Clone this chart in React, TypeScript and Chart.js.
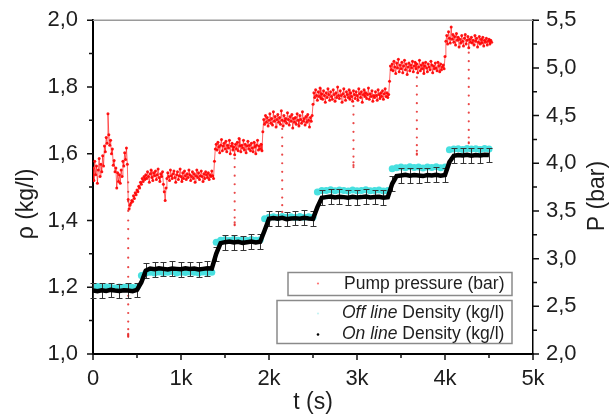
import React, { useEffect, useRef } from "react";
import { Chart, registerables } from "chart.js";

Chart.register(...registerables);

const FONT = "'Liberation Sans', Arial, Helvetica, sans-serif";

// ---------- tick labels ----------
const xTickLabels = ["0", "1k", "2k", "3k", "4k", "5k"];
const rhoTickLabels = ["1,0", "1,2", "1,4", "1,6", "1,8", "2,0"];
const pTickLabels = ["2,0", "2,5", "3,0", "3,5", "4,0", "4,5", "5,0", "5,5"];

// ---------- pump pressure (bar), sampled every 10 s from t = 0 ----------
const pressureStart = 0;
const pressureInterval = 10;
const pressureBar = [
  3.95, 3.82, 4.02, 3.88, 3.97, 3.79, 3.93, 4.05, 3.86, 3.99,
  3.91, 4.08, 3.97, 4.18, 4.12, 4.27, 4.21, 4.52, 4.30, 4.19,
  4.24, 4.10, 4.15, 3.98, 4.03, 3.91, 3.95, 3.74, 3.90, 3.81,
  3.88, 3.79, 3.93, 3.86, 4.02, 3.97, 4.11, 4.04, 4.16, 3.99,
  3.62, 3.52, 3.56, 3.58, 3.61, 3.60, 3.66, 3.63, 3.69, 3.67,
  3.72, 3.70, 3.76, 3.74, 3.80, 3.78, 3.84, 3.81, 3.86, 3.83,
  3.88, 3.84, 3.91, 3.86, 3.80, 3.89, 3.93, 3.85, 3.82, 3.90,
  3.87, 3.92, 3.83, 3.88, 3.94, 3.85, 3.81, 3.89, 3.86, 3.91,
  3.78, 3.70, 3.61, 3.74, 3.84, 3.90, 3.86, 3.82, 3.93, 3.87,
  3.84, 3.89, 3.92, 3.85, 3.80, 3.88, 3.91, 3.83, 3.87, 3.94,
  3.86, 3.81, 3.90, 3.84, 3.92, 3.87, 3.83, 3.89, 3.85, 3.93,
  3.88, 3.82, 3.86, 3.91, 3.84, 3.89, 3.80, 3.87, 3.93, 3.85,
  3.90, 3.83, 3.87, 3.92, 3.86, 3.81, 3.89, 3.84, 3.91, 3.88,
  3.85, 3.90, 3.83, 3.88, 3.86, 3.92, 3.87, 3.84, 4.02, 4.15,
  4.20, 4.14, 4.22, 4.17, 4.11, 4.19, 4.25, 4.13, 4.18, 4.21,
  4.15, 4.23, 4.12, 4.19, 4.16, 4.24, 4.10, 4.18, 4.21, 4.14,
  4.17, 4.09, 4.20, 4.15, 4.22, 4.13, 4.26, 4.18, 4.12, 4.19,
  4.16, 4.24, 4.14, 4.20, 4.11, 4.18, 4.23, 4.15, 4.19, 4.13,
  4.21, 4.16, 4.12, 4.22, 4.17, 4.10, 4.19, 4.24, 4.14, 4.18,
  4.15, 4.20, 4.13, 4.33, 4.46, 4.41, 4.50, 4.43, 4.48, 4.39,
  4.45, 4.52, 4.42, 4.47, 4.40, 4.54, 4.44, 4.49, 4.38, 4.46,
  4.51, 4.43, 4.48, 4.41, 4.55, 4.45, 4.39, 4.50, 4.44, 4.47,
  4.42, 4.53, 4.46, 4.40, 4.49, 4.44, 4.51, 4.37, 4.47, 4.43,
  4.48, 4.41, 4.52, 4.45, 4.39, 4.50, 4.46, 4.42, 4.54, 4.44,
  4.47, 4.40, 4.49, 4.43, 4.51, 4.45, 4.38, 4.48, 4.44, 4.50,
  4.62, 4.74, 4.69, 4.77, 4.71, 4.66, 4.75, 4.70, 4.79, 4.68,
  4.73, 4.67, 4.76, 4.71, 4.64, 4.74, 4.69, 4.78, 4.72, 4.66,
  4.75, 4.70, 4.67, 4.77, 4.72, 4.65, 4.74, 4.69, 4.80, 4.71,
  4.68, 4.76, 4.71, 4.64, 4.73, 4.78, 4.70, 4.66, 4.75, 4.72,
  4.69, 4.77, 4.67, 4.74, 4.70, 4.65, 4.76, 4.72, 4.68, 4.75,
  4.71, 4.66, 4.78, 4.73, 4.69, 4.75, 4.64, 4.72, 4.77, 4.70,
  4.74, 4.68, 4.72, 4.79, 4.67, 4.73, 4.70, 4.76, 4.65, 4.71,
  4.69, 4.75, 4.71, 4.66, 4.77, 4.72, 4.68, 4.74, 4.70, 4.76,
  4.67, 4.73, 4.78, 4.70, 4.74, 4.69, 4.72, 4.86, 5.02, 4.98,
  5.04, 4.97, 5.07, 5.01, 4.94, 5.05, 5.00, 5.09, 4.96, 5.03,
  4.99, 5.06, 4.95, 5.02, 5.08, 4.98, 5.04, 4.93, 5.01, 5.05,
  4.97, 5.03, 5.00, 5.07, 4.96, 5.02, 5.06, 4.99, 5.04, 4.95,
  5.01, 5.08, 4.97, 5.03, 4.99, 5.05, 4.94, 5.02, 5.06, 5.00,
  4.96, 5.04, 5.01, 4.98, 5.07, 5.03, 4.95, 5.02, 4.99, 5.05,
  5.00, 4.97, 5.06, 5.02, 4.96, 5.04, 4.98, 5.01, 5.03, 4.99,
  5.12, 5.28, 5.34, 5.25, 5.38, 5.31, 5.26, 5.43, 5.30, 5.35,
  5.27, 5.33, 5.24, 5.36, 5.29, 5.32, 5.22, 5.30, 5.26, 5.34,
  5.28, 5.23, 5.31, 5.35, 5.25, 5.29, 5.33, 5.21, 5.30, 5.27,
  5.32, 5.26, 5.29, 5.24, 5.34, 5.28, 5.31, 5.22, 5.27, 5.33,
  5.25, 5.30, 5.26, 5.32, 5.23, 5.29, 5.27, 5.31, 5.24, 5.28,
  5.30, 5.25, 5.29, 5.27,
];

// pressure drops (dotted vertical trails)
const spikeTimes = [400, 1610, 2150, 2960, 3680, 4270];
const spikeValues = [
  [3.80, 3.70, 3.60, 3.50, 3.40, 3.31, 3.21, 3.11, 3.01, 2.91, 2.81, 2.71, 2.61, 2.52, 2.43, 2.34, 2.26, 2.21, 2.19, 2.18, 2.20],
  [4.05, 3.96, 3.87, 3.78, 3.69, 3.60, 3.51, 3.43, 3.38, 3.36, 3.35],
  [4.36, 4.27, 4.18, 4.09, 4.00, 3.91, 3.82, 3.73, 3.64, 3.56, 3.49, 3.46],
  [4.60, 4.51, 4.42, 4.33, 4.24, 4.15, 4.07, 4.01, 3.98, 3.96],
  [4.90, 4.81, 4.72, 4.63, 4.54, 4.45, 4.36, 4.27, 4.19, 4.13, 4.10, 4.09],
  [5.16, 5.07, 4.98, 4.89, 4.80, 4.71, 4.62, 4.53, 4.44, 4.35, 4.27, 4.22, 4.21],
];

// ---------- densities (kg/l), sampled every 50 s from t = 0 ----------
const densityStart = 0;
const densityInterval = 50;
const onlineDensity = [
  1.19, 1.188, 1.191, 1.189, 1.192, 1.19, 1.189, 1.191, 1.19, 1.188, 1.192,
  1.215, 1.25,
  1.256, 1.254, 1.257, 1.255, 1.253, 1.256, 1.255, 1.254, 1.257, 1.255, 1.256, 1.253, 1.255, 1.257, 1.256,
  1.30, 1.332,
  1.335, 1.337, 1.334, 1.336, 1.333, 1.335, 1.337, 1.334, 1.336,
  1.37, 1.405,
  1.407, 1.405, 1.408, 1.404, 1.406, 1.407, 1.405, 1.408, 1.406, 1.405,
  1.44, 1.468,
  1.47, 1.472, 1.469, 1.471, 1.47, 1.468, 1.471, 1.469, 1.47, 1.472, 1.469, 1.47, 1.471, 1.468, 1.47,
  1.51, 1.533,
  1.535, 1.537, 1.534, 1.536, 1.535, 1.533, 1.536, 1.535, 1.537, 1.534, 1.536,
  1.575, 1.594,
  1.596, 1.595, 1.597, 1.594, 1.596, 1.595, 1.597, 1.596,
];
const offlineDensity = [
  1.20, 1.202, 1.199, 1.201, 1.20, 1.198, 1.201, 1.20, 1.202, 1.199, 1.20,
  1.235, 1.243,
  1.245, 1.243, 1.246, 1.244, 1.245, 1.247, 1.243, 1.245, 1.244, 1.246, 1.245, 1.243, 1.246, 1.244, 1.245,
  1.335, 1.341,
  1.342, 1.340, 1.343, 1.341, 1.342, 1.340, 1.343, 1.341, 1.342,
  1.405, 1.41,
  1.411, 1.409, 1.412, 1.410, 1.411, 1.409, 1.412, 1.410, 1.411, 1.410,
  1.485, 1.49,
  1.49, 1.492, 1.489, 1.491, 1.49, 1.488, 1.491, 1.489, 1.49, 1.492, 1.489, 1.49, 1.491, 1.488, 1.49,
  1.555, 1.558,
  1.56, 1.558, 1.561, 1.559, 1.56, 1.557, 1.56, 1.559, 1.561, 1.558, 1.56,
  1.612, 1.614,
  1.615, 1.613, 1.616, 1.614, 1.615, 1.613, 1.616, 1.614,
];
// on-line density uncertainty (half-width of the error bar, kg/l), shown every 100 s
const onlineError = 0.022;
const errorBarEvery = 100;

const legendLabels = [
  { italic: "", normal: "Pump pressure (bar)" },
  { italic: "Off line", normal: " Density (kg/l)" },
  { italic: "On line", normal: " Density (kg/l)" },
];

const RED = "rgba(255,0,0,0.9)";
const CYAN = "rgb(72,224,224)";
const TEXT = "#1e1e1e";

const pressurePoints = pressureBar.map((p, i) => ({ x: pressureStart + i * pressureInterval, y: p }));
const spikePoints = spikeTimes.flatMap((t, i) => spikeValues[i].map((p) => ({ x: t, y: p })));
const onlinePoints = onlineDensity.map((d, i) => ({ x: densityStart + i * densityInterval, y: d }));
const offlinePoints = offlineDensity.map((d, i) => ({ x: densityStart + i * densityInterval, y: d }));

const decorPlugin = {
  id: "decor",
  afterDatasetDraw(chart: any, args: any) {
    if (args.index !== 2) return; // after the off-line (cyan) set, before the on-line line
    const { ctx, scales } = chart;
    const xs = scales.x;
    const ys = scales.y;
    ctx.save();
    ctx.strokeStyle = "#333";
    ctx.lineWidth = 1;
    onlinePoints.forEach((p) => {
      if (p.x % errorBarEvery !== 0) return;
      const px = Math.round(xs.getPixelForValue(p.x)) + 0.5;
      const yt = Math.round(ys.getPixelForValue(p.y + onlineError)) + 0.5;
      const yb = Math.round(ys.getPixelForValue(p.y - onlineError)) + 0.5;
      ctx.beginPath();
      ctx.moveTo(px, yt);
      ctx.lineTo(px, yb);
      ctx.moveTo(px - 3, yt);
      ctx.lineTo(px + 3, yt);
      ctx.moveTo(px - 3, yb);
      ctx.lineTo(px + 3, yb);
      ctx.stroke();
    });
    ctx.restore();
  },
  afterDraw(chart: any) {
    const { ctx, chartArea: a, scales } = chart;
    ctx.save();
    // top frame line
    ctx.strokeStyle = "#9a9a9a";
    ctx.lineWidth = 1.5;
    ctx.beginPath();
    ctx.moveTo(a.left, a.top);
    ctx.lineTo(a.right, a.top);
    ctx.stroke();

    // major + minor ticks (outward)
    ctx.strokeStyle = "#111";
    ctx.lineWidth = 1.5;
    const tickSet = (scale: any) => {
      const majors = scale.ticks.map((t: any) => t.value);
      const minors: number[] = [];
      for (let i = 0; i < majors.length - 1; i++) minors.push((majors[i] + majors[i + 1]) / 2);
      return { majors, minors };
    };
    const yl = tickSet(scales.y);
    const yr = tickSet(scales.y2);
    const xb = tickSet(scales.x);
    ctx.beginPath();
    yl.majors.forEach((v: number) => { const y = scales.y.getPixelForValue(v); ctx.moveTo(a.left, y); ctx.lineTo(a.left - 6, y); });
    yl.minors.forEach((v: number) => { const y = scales.y.getPixelForValue(v); ctx.moveTo(a.left, y); ctx.lineTo(a.left - 4, y); });
    yr.majors.forEach((v: number) => { const y = scales.y2.getPixelForValue(v); ctx.moveTo(a.right, y); ctx.lineTo(a.right + 6, y); });
    yr.minors.forEach((v: number) => { const y = scales.y2.getPixelForValue(v); ctx.moveTo(a.right, y); ctx.lineTo(a.right + 4, y); });
    xb.majors.forEach((v: number) => { const x = scales.x.getPixelForValue(v); ctx.moveTo(x, a.bottom); ctx.lineTo(x, a.bottom + 6); });
    xb.minors.forEach((v: number) => { const x = scales.x.getPixelForValue(v); ctx.moveTo(x, a.bottom); ctx.lineTo(x, a.bottom + 4); });
    ctx.stroke();

    // axis titles
    ctx.fillStyle = TEXT;
    ctx.font = `23px ${FONT}`;
    ctx.textAlign = "center";
    ctx.textBaseline = "middle";
    ctx.save();
    ctx.translate(27, 204);
    ctx.rotate(-Math.PI / 2);
    ctx.fillText("ρ (kg/l)", 0, 0);
    ctx.restore();
    ctx.save();
    ctx.translate(598, 196);
    ctx.rotate(-Math.PI / 2);
    ctx.fillText("P (bar)", 0, 0);
    ctx.restore();
    ctx.fillText("t (s)", (a.left + a.right) / 2, 403);

    // legend boxes
    ctx.strokeStyle = "#8a8a8a";
    ctx.lineWidth = 1.5;
    ctx.fillStyle = "#fff";
    ctx.fillRect(288, 272.5, 224, 23);
    ctx.strokeRect(288, 272.5, 224, 23);
    ctx.fillRect(277, 300.5, 235, 43);
    ctx.strokeRect(277, 300.5, 235, 43);

    // legend markers
    const markers = [
      { y: 283.5, color: "rgba(255,60,60,0.7)", r: 1.1 },
      { y: 313.5, color: "rgba(160,235,235,0.6)", r: 1.1 },
      { y: 334.5, color: "#000", r: 1.3 },
    ];
    markers.forEach((m) => {
      ctx.fillStyle = m.color;
      ctx.beginPath();
      ctx.arc(318, m.y, m.r, 0, Math.PI * 2);
      ctx.fill();
    });

    // legend texts
    ctx.fillStyle = TEXT;
    ctx.textAlign = "left";
    ctx.textBaseline = "middle";
    const rows = [
      { x: 344, y: 284 },
      { x: 342, y: 313.5 },
      { x: 342, y: 334.5 },
    ];
    legendLabels.forEach((l, i) => {
      let x = rows[i].x;
      if (l.italic) {
        ctx.font = `italic 17.5px ${FONT}`;
        ctx.fillText(l.italic, x, rows[i].y);
        x += ctx.measureText(l.italic).width;
      }
      ctx.font = `17.5px ${FONT}`;
      ctx.fillText(l.normal, x, rows[i].y);
    });
    ctx.restore();
  },
};

export default function App() {
  const ref = useRef<HTMLCanvasElement>(null);
  useEffect(() => {
    if (!ref.current) return;
    const chart = new Chart(ref.current, {
      type: "scatter",
      data: {
        datasets: [
          {
            label: "Pump pressure (bar)",
            data: pressurePoints,
            yAxisID: "y2",
            showLine: true,
            borderColor: "rgba(255,0,0,0.75)",
            borderWidth: 0.8,
            tension: 0,
            pointRadius: 1.5,
            pointBorderWidth: 0,
            pointBackgroundColor: RED,
            backgroundColor: RED,
            order: 5,
          } as any,
          {
            label: "Pump pressure drops",
            data: spikePoints,
            yAxisID: "y2",
            pointRadius: 1.1,
            pointBorderWidth: 0,
            pointBackgroundColor: "rgba(230,40,40,0.85)",
            backgroundColor: "rgba(230,40,40,0.85)",
            order: 4,
          },
          {
            label: "Off line Density (kg/l)",
            data: offlinePoints,
            yAxisID: "y",
            pointRadius: 3.5,
            pointBorderWidth: 0,
            pointBackgroundColor: CYAN,
            backgroundColor: CYAN,
            order: 3,
          },
          {
            label: "On line Density (kg/l)",
            data: onlinePoints,
            yAxisID: "y",
            showLine: true,
            pointRadius: 0,
            borderColor: "#000",
            borderWidth: 4.5,
            tension: 0,
            order: 1,
          } as any,
        ],
      },
      options: {
        animation: false,
        responsive: false,
        events: [],
        layout: { padding: { top: 20, bottom: 0, left: 0, right: 0 } },
        plugins: { legend: { display: false }, tooltip: { enabled: false } },
        scales: {
          x: {
            type: "linear",
            position: "bottom",
            min: 0,
            max: 5000,
            grid: { display: false },
            border: { display: true, color: "#000", width: 2 },
            ticks: {
              stepSize: 1000,
              padding: 4,
              color: TEXT,
              font: { family: FONT, size: 22 },
              maxRotation: 0,
              callback: (_v: any, i: number) => xTickLabels[i],
            },
            afterFit: (s: any) => { s.height = 62; },
          },
          y: {
            type: "linear",
            position: "left",
            min: 1.0,
            max: 2.0,
            grid: { display: false },
            border: { display: true, color: "#000", width: 2 },
            ticks: {
              stepSize: 0.2,
              padding: 7,
              color: TEXT,
              font: { family: FONT, size: 22 },
              callback: (_v: any, i: number) => rhoTickLabels[i],
            },
            afterFit: (s: any) => { s.width = 93; },
          },
          y2: {
            type: "linear",
            position: "right",
            min: 2.0,
            max: 5.5,
            grid: { display: false },
            border: { display: true, color: "#000", width: 1.5 },
            ticks: {
              stepSize: 0.5,
              padding: 5,
              color: TEXT,
              font: { family: FONT, size: 22 },
              callback: (_v: any, i: number) => pTickLabels[i],
            },
            afterFit: (s: any) => { s.width = 77; },
          },
        },
      },
      plugins: [decorPlugin],
    });
    return () => chart.destroy();
  }, []);
  return (
    <div style={{ position: "absolute", left: 0, top: 0, width: 610, height: 416 }}>
      <canvas ref={ref} width={610} height={416} />
    </div>
  );
}
